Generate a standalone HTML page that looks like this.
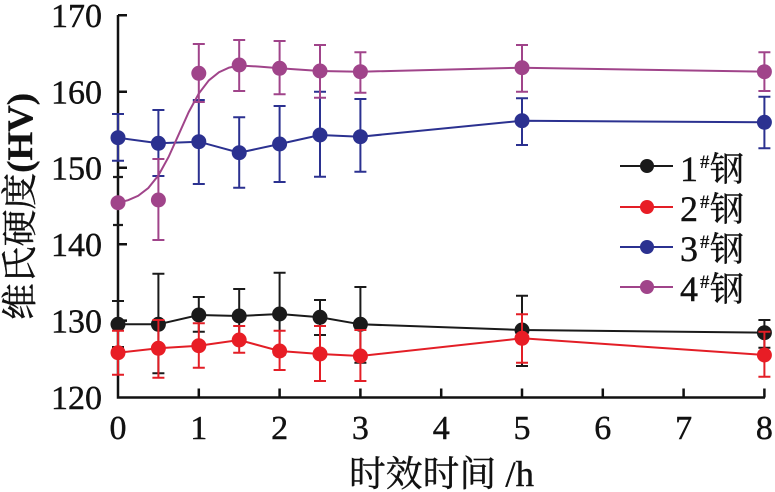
<!DOCTYPE html>
<html><head><meta charset="utf-8"><style>
html,body{margin:0;padding:0;background:#fff;}
svg{display:block;}
.tk{font-family:"Liberation Serif","Noto Serif CJK SC",serif;font-size:34px;fill:#111;stroke:#111;stroke-width:0.4;}
</style></head><body>
<svg width="775" height="492" viewBox="0 0 775 492" xmlns="http://www.w3.org/2000/svg">
<rect width="775" height="492" fill="#fff"/>
<!-- axes -->
<g stroke="#111" stroke-width="2.5" fill="none">
<path d="M118,15 V397.5 H765"/>
<path d="M118,15.3 h9 M118,91.7 h9 M118,167.8 h9 M118,244.2 h9 M118,320.6 h9"/>
<path d="M198.8,397.5 v-9 M279.6,397.5 v-9 M360.4,397.5 v-9 M441.2,397.5 v-9 M522,397.5 v-9 M602.8,397.5 v-9 M683.6,397.5 v-9 M764.4,397.5 v-9"/>
</g>
<!-- y tick labels -->
<g class="tk" text-anchor="end">
<text x="102" y="27">170</text>
<text x="102" y="103.5">160</text>
<text x="102" y="179.5">150</text>
<text x="102" y="256">140</text>
<text x="102" y="332.5">130</text>
<text x="102" y="409">120</text>
</g>
<!-- x tick labels -->
<g class="tk" text-anchor="middle">
<text x="118" y="439">0</text>
<text x="198.8" y="439">1</text>
<text x="279.6" y="439">2</text>
<text x="360.4" y="439">3</text>
<text x="441.2" y="439">4</text>
<text x="522" y="439">5</text>
<text x="602.8" y="439">6</text>
<text x="683.6" y="439">7</text>
<text x="764.4" y="439">8</text>
</g>
<!-- axis titles -->
<text x="441.5" y="486" text-anchor="middle" textLength="185" lengthAdjust="spacingAndGlyphs" style="font-family:'Liberation Serif','Noto Serif CJK SC',serif;font-size:36px;fill:#111;stroke:#111;stroke-width:0.4;">时效时间 /h</text>
<text transform="translate(32,206.5) rotate(-90)" x="0" y="0" text-anchor="middle" textLength="227" lengthAdjust="spacingAndGlyphs" style="font-family:'Liberation Serif','Noto Serif CJK SC',serif;font-size:36px;fill:#111;stroke:#111;stroke-width:0.4;">维氏硬度<tspan font-weight="bold">(HV)</tspan></text>

<!-- Series 1 black -->
<g stroke="#1a1a1a" stroke-width="2" fill="none">
<path d="M118,301V347M112,301h12M112,347h12"/>
<path d="M158.4,273.7V373.3M152.4,273.7h12M152.4,373.3h12"/>
<path d="M198.8,297V331.7M192.8,297h12M192.8,331.7h12"/>
<path d="M239.2,289V343M233.2,289h12M233.2,343h12"/>
<path d="M279.6,272.7V355M273.6,272.7h12M273.6,355h12"/>
<path d="M320,300V335M314,300h12M314,335h12"/>
<path d="M360.4,287V362.7M354.4,287h12M354.4,362.7h12"/>
<path d="M522,295.7V366M516,295.7h12M516,366h12"/>
<path d="M764.4,320V347.7M758.4,320h12M758.4,347.7h12"/>
<polyline points="118,324.3 158.4,324.3 198.8,315 239.2,316 279.6,314 320,317.3 360.4,324.3 522,330 764.4,332.7"/>
</g>
<g fill="#1a1a1a">
<circle cx="118" cy="324.3" r="7.5"/><circle cx="158.4" cy="324.3" r="7.5"/><circle cx="198.8" cy="315" r="7.5"/><circle cx="239.2" cy="316" r="7.5"/><circle cx="279.6" cy="314" r="7.5"/><circle cx="320" cy="317.3" r="7.5"/><circle cx="360.4" cy="324.3" r="7.5"/><circle cx="522" cy="330" r="7.5"/><circle cx="764.4" cy="332.7" r="7.5"/>
</g>

<!-- Series 2 red -->
<g stroke="#e31e26" stroke-width="2" fill="none">
<path d="M118,330.7V374.7M112,330.7h12M112,374.7h12"/>
<path d="M158.4,320V377.7M152.4,320h12M152.4,377.7h12"/>
<path d="M198.8,323.3V367.7M192.8,323.3h12M192.8,367.7h12"/>
<path d="M239.2,326V352.7M233.2,326h12M233.2,352.7h12"/>
<path d="M279.6,330.7V370M273.6,330.7h12M273.6,370h12"/>
<path d="M320,326V381M314,326h12M314,381h12"/>
<path d="M360.4,330V381M354.4,330h12M354.4,381h12"/>
<path d="M522,314.3V362.7M516,314.3h12M516,362.7h12"/>
<path d="M764.4,331.7V376.7M758.4,331.7h12M758.4,376.7h12"/>
<polyline points="118,352.7 158.4,348.3 198.8,345.7 239.2,340 279.6,351 320,354 360.4,356 522,338.3 764.4,355"/>
</g>
<g fill="#e81d25">
<circle cx="118" cy="352.7" r="7.5"/><circle cx="158.4" cy="348.3" r="7.5"/><circle cx="198.8" cy="345.7" r="7.5"/><circle cx="239.2" cy="340" r="7.5"/><circle cx="279.6" cy="351" r="7.5"/><circle cx="320" cy="354" r="7.5"/><circle cx="360.4" cy="356" r="7.5"/><circle cx="522" cy="338.3" r="7.5"/><circle cx="764.4" cy="355" r="7.5"/>
</g>

<!-- Series 3 blue -->
<g stroke="#2b3190" stroke-width="2" fill="none">
<path d="M118,114V160.7M112,114h12M112,160.7h12"/>
<path d="M158.4,110V176M152.4,110h12M152.4,176h12"/>
<path d="M198.8,100V184M192.8,100h12M192.8,184h12"/>
<path d="M239.2,117.3V187.7M233.2,117.3h12M233.2,187.7h12"/>
<path d="M279.6,106V182M273.6,106h12M273.6,182h12"/>
<path d="M320,91.7V176.7M314,91.7h12M314,176.7h12"/>
<path d="M360.4,99V171.7M354.4,99h12M354.4,171.7h12"/>
<path d="M522,98.3V145M516,98.3h12M516,145h12"/>
<path d="M764.4,96.7V148.3M758.4,96.7h12M758.4,148.3h12"/>
<polyline points="118,137.7 158.4,143.3 198.8,141.7 239.2,152.7 279.6,144 320,135 360.4,136.7 522,120.7 764.4,122.3"/>
</g>
<g fill="#2b3190">
<circle cx="118" cy="137.7" r="7.5"/><circle cx="158.4" cy="143.3" r="7.5"/><circle cx="198.8" cy="141.7" r="7.5"/><circle cx="239.2" cy="152.7" r="7.5"/><circle cx="279.6" cy="144" r="7.5"/><circle cx="320" cy="135" r="7.5"/><circle cx="360.4" cy="136.7" r="7.5"/><circle cx="522" cy="120.7" r="7.5"/><circle cx="764.4" cy="122.3" r="7.5"/>
</g>

<!-- Series 4 purple -->
<g stroke="#1a1a1a" stroke-width="2.2" fill="none">
<path d="M113,177h10M113,225h10"/>
</g>
<g stroke="#a0448a" stroke-width="2" fill="none">
<path d="M158.4,159V240M152.4,159h12M152.4,240h12"/>
<path d="M198.8,44V102M192.8,44h12M192.8,102h12"/>
<path d="M239.2,40V91M233.2,40h12M233.2,91h12"/>
<path d="M279.6,41V94.3M273.6,41h12M273.6,94.3h12"/>
<path d="M320,45V97.7M314,45h12M314,97.7h12"/>
<path d="M360.4,52.3V92.7M354.4,52.3h12M354.4,92.7h12"/>
<path d="M522,45V91.7M516,45h12M516,91.7h12"/>
<path d="M764.4,52.3V91M758.4,52.3h12M758.4,91h12"/>
<polyline points="118,202.7 128.1,200.2 138.2,195.8 148.3,188 158.4,175.4 168.5,157.1 178.6,134.7 188.7,112.1 198.8,93.5 208.9,80.3 219,72.2 229.1,67.6 239.2,65.5 259.4,66.6 279.6,68.3 320,71 360.4,71.7 522,67.7 764.4,71.7"/>
</g>
<g fill="#a0448a">
<circle cx="118" cy="202.7" r="7.5"/><circle cx="158.4" cy="200" r="7.5"/><circle cx="198.8" cy="73.3" r="7.5"/><circle cx="239.2" cy="65" r="7.5"/><circle cx="279.6" cy="68.3" r="7.5"/><circle cx="320" cy="71" r="7.5"/><circle cx="360.4" cy="71.7" r="7.5"/><circle cx="522" cy="67.7" r="7.5"/><circle cx="764.4" cy="71.7" r="7.5"/>
</g>

<!-- Legend -->
<g stroke-width="2">
<line x1="620" y1="166" x2="673" y2="166" stroke="#1a1a1a"/>
<line x1="620" y1="207" x2="673" y2="207" stroke="#e31e26"/>
<line x1="620" y1="247" x2="673" y2="247" stroke="#2b3190"/>
<line x1="620" y1="287" x2="673" y2="287" stroke="#a0448a"/>
</g>
<circle cx="647" cy="166" r="7" fill="#1a1a1a"/>
<circle cx="647" cy="207" r="7" fill="#e81d25"/>
<circle cx="647" cy="247" r="7" fill="#2b3190"/>
<circle cx="647" cy="287" r="7" fill="#a0448a"/>
<g style="font-family:'Liberation Serif',serif;font-size:36px;fill:#111;stroke:#111;stroke-width:0.4;">
<text x="680" y="181">1</text>
<text x="680" y="221">2</text>
<text x="680" y="261">3</text>
<text x="680" y="301">4</text>
</g>
<g style="font-family:'Liberation Serif',serif;font-size:19px;font-weight:bold;fill:#111;">
<text x="700" y="168">#</text>
<text x="700" y="208">#</text>
<text x="700" y="248">#</text>
<text x="700" y="288">#</text>
</g>
<g style="font-family:'Liberation Serif','Noto Serif CJK SC',serif;font-size:34px;fill:#111;stroke:#111;stroke-width:0.4;">
<text x="710" y="181">钢</text>
<text x="710" y="221">钢</text>
<text x="710" y="261">钢</text>
<text x="710" y="301">钢</text>
</g>
</svg>
</body></html>
